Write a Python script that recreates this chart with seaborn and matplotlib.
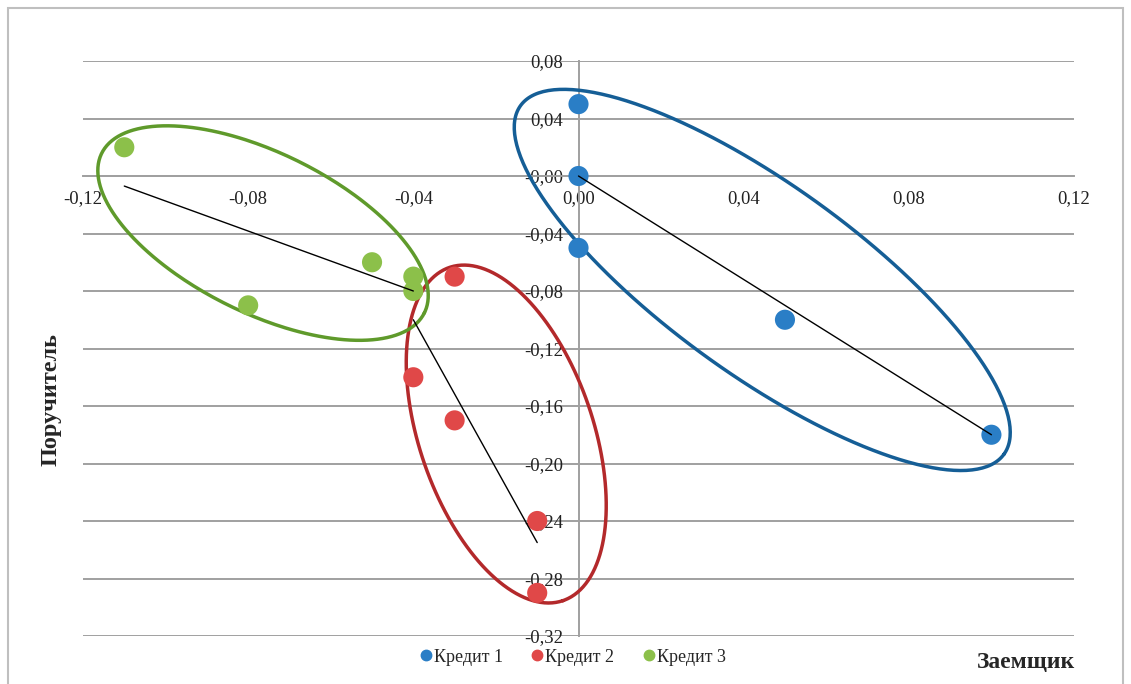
import numpy as np
import pandas as pd
import seaborn as sns
import matplotlib.pyplot as plt
from matplotlib.lines import Line2D
from matplotlib.patches import Rectangle

sns.set_style('white')
plt.rcParams['font.family'] = ['Liberation Serif', 'DejaVu Serif']

# points of the three credits
CREDIT1_X = [0.00, 0.00, 0.00, 0.05, 0.10]
CREDIT1_Y = [0.05, 0.00, -0.05, -0.10, -0.18]
CREDIT2_X = [-0.03, -0.04, -0.03, -0.01, -0.01]
CREDIT2_Y = [-0.07, -0.14, -0.17, -0.24, -0.29]
CREDIT3_X = [-0.11, -0.08, -0.05, -0.04, -0.04]
CREDIT3_Y = [0.02, -0.09, -0.06, -0.07, -0.08]
LABELS = ['Кредит 1', 'Кредит 2', 'Кредит 3']

# black trend segments (start x, start y, end x, end y)
TREND_X0 = [0.00, -0.04, -0.11]
TREND_Y0 = [0.00, -0.10, -0.007]
TREND_X1 = [0.10, -0.01, -0.04]
TREND_Y1 = [-0.18, -0.255, -0.08]

# cluster ellipses: centre in data, half axes in screen px, angle (deg, clockwise)
ELL_CX = [0.0445, -0.0175, -0.0764]
ELL_CY = [-0.0723, -0.1795, -0.0397]
ELL_A = [298, 176, 180]
ELL_B = [95, 87, 80]
ELL_ANG = [35.8, 71.2, 26.3]

POINT_COLORS = ['#2A7EC6', '#E04848', '#8CC04A']
RING_COLORS = ['#155E96', '#B3292B', '#5F9A2B']

XMIN, XMAX = -0.12, 0.12
YMIN, YMAX = -0.32, 0.08


def fmt(v):
    return f'{v:.2f}'.replace('.', ',')


def build_frame():
    frames = []
    for xs, ys, lab in zip([CREDIT1_X, CREDIT2_X, CREDIT3_X],
                           [CREDIT1_Y, CREDIT2_Y, CREDIT3_Y], LABELS):
        frames.append(pd.DataFrame({'x': xs, 'y': ys, 'credit': lab}))
    return pd.concat(frames, ignore_index=True)


def draw_ellipses(ax):
    # half axes are given in screen px of the 991 x 575 px plot area
    kx = (XMAX - XMIN) / 991
    ky = (YMAX - YMIN) / 575
    t = np.linspace(0, 2 * np.pi, 300)
    for cx, cy, a, b, ang, col in zip(ELL_CX, ELL_CY, ELL_A, ELL_B, ELL_ANG, RING_COLORS):
        th = np.radians(ang)
        dx = a * np.cos(th) * np.cos(t) - b * np.sin(th) * np.sin(t)
        dy = a * np.sin(th) * np.cos(t) + b * np.cos(th) * np.sin(t)
        ax.plot(cx + dx * kx, cy - dy * ky, color=col, lw=2.5, zorder=4)


def main():
    df = build_frame()
    fig = plt.figure(figsize=(11.31, 6.84), dpi=100)
    ax = fig.add_axes([83 / 1131, 1 - 636 / 684, 991 / 1131, 575 / 684])

    sns.scatterplot(data=df, x='x', y='y', hue='credit', palette=POINT_COLORS,
                    s=210, edgecolor='none', legend=False, ax=ax, zorder=5)

    for x0, y0, x1, y1 in zip(TREND_X0, TREND_Y0, TREND_X1, TREND_Y1):
        ax.plot([x0, x1], [y0, y1], color='black', lw=1.0, zorder=6)

    draw_ellipses(ax)

    # spines through zero first (this resets the ticks)
    for s in ['top', 'right']:
        ax.spines[s].set_visible(False)
    ax.spines['left'].set_position(('data', 0))
    ax.spines['bottom'].set_position(('data', 0))
    for s in ['left', 'bottom']:
        ax.spines[s].set_color('#A0A0A0')
        ax.spines[s].set_linewidth(1.4)

    ax.set_xlim(XMIN, XMAX)
    ax.set_ylim(YMIN, YMAX)
    xt = np.round(np.arange(XMIN, XMAX + 0.001, 0.04), 2)
    yt = np.round(np.arange(YMIN, YMAX + 0.001, 0.04), 2)
    ax.set_xticks(xt)
    ax.set_yticks(yt)
    ax.set_xticklabels([fmt(v) for v in xt])
    ax.set_yticklabels([fmt(v) for v in yt])
    ax.tick_params(axis='both', length=4, color='#A0A0A0', labelcolor='#222222',
                   labelsize=13.5)
    ax.tick_params(axis='x', pad=6)
    ax.tick_params(axis='y', pad=7)
    ax.yaxis.grid(True, color='#A0A0A0', lw=1.4)
    ax.xaxis.grid(False)
    ax.set_axisbelow(True)
    ax.set_xlabel('')
    ax.set_ylabel('')

    fig.text(51 / 1131, 1 - 400 / 684, 'Поручитель', rotation=90, fontsize=17.5,
             fontweight='bold', ha='center', va='center')
    fig.text(1075 / 1131, 1 - 662 / 684, 'Заемщик', fontsize=17,
             fontweight='bold', ha='right', va='center')

    handles = [Line2D([], [], marker='o', ls='none', color=c, markersize=7.5)
               for c in POINT_COLORS]
    fig.legend(handles, LABELS, loc='center', bbox_to_anchor=(572 / 1131, 1 - 657 / 684),
               ncol=3, frameon=False, fontsize=13, handletextpad=0.05,
               columnspacing=1.5, handlelength=0.8)

    fig.patches.append(Rectangle((8 / 1131, -0.01), 1115 / 1131, 1 - 8 / 684 + 0.01,
                                 transform=fig.transFigure, fill=False,
                                 edgecolor='#BFBFBF', lw=1.5))

    fig.savefig('out.png', dpi=100)


if __name__ == '__main__':
    main()
